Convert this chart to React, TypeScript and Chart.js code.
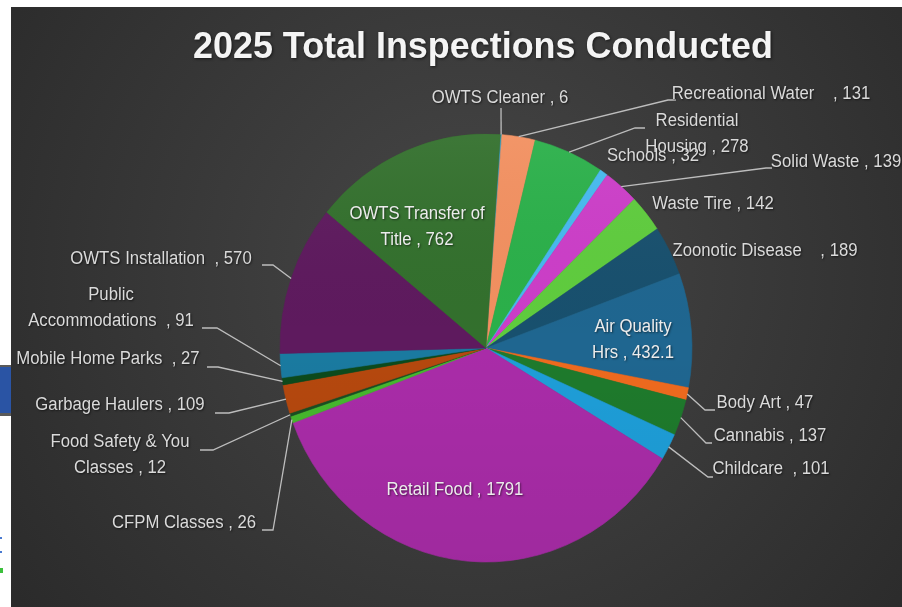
import React, { useEffect, useRef } from "react";
import { Chart, registerables } from "chart.js";

Chart.register(...registerables);

// ---------------- data ----------------
const TITLE = "2025 Total Inspections Conducted";

const categories = [
  "OWTS Cleaner",
  "Recreational Water",
  "Residential Housing",
  "Schools",
  "Solid Waste",
  "Waste Tire",
  "Zoonotic Disease",
  "Air Quality Hrs",
  "Body Art",
  "Cannabis",
  "Childcare",
  "Retail Food",
  "CFPM Classes",
  "Food Safety & You Classes",
  "Garbage Haulers",
  "Mobile Home Parks",
  "Public Accommodations",
  "OWTS Installation",
  "OWTS Transfer of Title",
];

const inspections = [6, 131, 278, 32, 139, 142, 189, 432.1, 47, 137, 101, 1791, 26, 12, 109, 27, 91, 570, 762];

const sliceColors = [
  "#2a9ac8", // OWTS Cleaner
  "#f29060", // Recreational Water
  "#2bb04a", // Residential Housing
  "#46b9ee", // Schools
  "#cc3ec8", // Solid Waste
  "#5fcc3e", // Waste Tire
  "#18506e", // Zoonotic Disease
  "#1f6690", // Air Quality Hrs
  "#ee6a1e", // Body Art
  "#1e7a2c", // Cannabis
  "#1e9ed8", // Childcare
  "#a92ca8", // Retail Food
  "#46b82e", // CFPM Classes
  "#1a4e22", // Food Safety & You Classes
  "#b5480e", // Garbage Haulers
  "#0c4a1c", // Mobile Home Parks
  "#1a7aa0", // Public Accommodations
  "#5e1a5e", // OWTS Installation
  "#33702d", // OWTS Transfer of Title
];

// ---------------- layout (page pixels) ----------------
const W = 902;
const H = 607;
const PANEL_X = 11;
const PANEL_Y = 7;
const CX = 486;
const CY = 348;
const RY = 214;
const RX = 206;
const SX = RX / RY;
const ROTATION = 4;

type LabelLayout = {
  x: number;
  y: number;
  brk?: number; // words of the name on the first line
  gap?: number; // spaces before the comma
  inside?: boolean;
  leader?: number[][];
};

const labelLayout: LabelLayout[] = [
  { x: 500, y: 97, leader: [[501, 108]] },
  { x: 771, y: 93, gap: 4, leader: [[676, 100], [668, 100]] },
  { x: 697, y: 120, brk: 1, leader: [[645, 128], [635, 128]] },
  { x: 653, y: 155 },
  { x: 836, y: 161, leader: [[772, 168], [766, 168]] },
  { x: 713, y: 203 },
  { x: 765, y: 250, gap: 4 },
  { x: 633, y: 326, brk: 2, inside: true },
  { x: 765, y: 402, leader: [[715, 410], [705, 410]] },
  { x: 770, y: 435, leader: [[712, 443], [706, 443]] },
  { x: 771, y: 468, gap: 2, leader: [[713, 477], [708, 477]] },
  { x: 455, y: 489, inside: true },
  { x: 184, y: 522, leader: [[262, 530], [273, 530]] },
  { x: 120, y: 441, brk: 4, leader: [[200, 450], [213, 450]] },
  { x: 120, y: 404, leader: [[215, 413], [229, 413]] },
  { x: 108, y: 358, gap: 2, leader: [[207, 367], [218, 367]] },
  { x: 111, y: 294, brk: 1, gap: 2, leader: [[202, 328], [217, 328]] },
  { x: 161, y: 258, gap: 2, leader: [[262, 265], [273, 265]] },
  { x: 417, y: 213, brk: 3, inside: true },
];

const LABEL_FONT = '18px "Liberation Sans", Arial, sans-serif';
const LABEL_SCALE = 0.93;
const LINE_H = 26;

function labelLines(i: number): string[] {
  const lay = labelLayout[i];
  const words = categories[i].split(" ");
  const tail = " ".repeat(lay.gap ?? 1) + ", " + String(inspections[i]);
  if (lay.brk && lay.brk < words.length) {
    return [words.slice(0, lay.brk).join(" "), words.slice(lay.brk).join(" ") + tail];
  }
  return [categories[i] + tail];
}

function drawScaled(ctx: CanvasRenderingContext2D, text: string, x: number, y: number, sx: number) {
  ctx.save();
  ctx.translate(x, y);
  ctx.scale(sx, 1);
  ctx.fillText(text, 0, 0);
  ctx.restore();
}

const piePlugin = {
  id: "slideDecor",
  beforeDraw(chart: any) {
    const ctx: CanvasRenderingContext2D = chart.ctx;
    ctx.save();
    ctx.fillStyle = "#ffffff";
    ctx.fillRect(0, 0, W, H);
    const g = ctx.createRadialGradient(470, 270, 0, 470, 270, 660);
    g.addColorStop(0, "#474747");
    g.addColorStop(1, "#262626");
    ctx.fillStyle = g;
    ctx.fillRect(PANEL_X, PANEL_Y, W - PANEL_X, H - PANEL_Y);
    // slide artefacts on the left edge
    ctx.fillStyle = "#5a5a5a";
    ctx.fillRect(0, 365, PANEL_X, 51);
    ctx.fillStyle = "#2a54a4";
    ctx.fillRect(0, 367, PANEL_X, 46);
    ctx.fillStyle = "#4a7ad0";
    ctx.fillRect(0, 537, 2, 2);
    ctx.fillRect(0, 551, 2, 2);
    ctx.fillStyle = "#3cc03c";
    ctx.fillRect(0, 568, 3, 5);
    ctx.restore();
  },
  beforeDatasetsDraw(chart: any) {
    const ctx: CanvasRenderingContext2D = chart.ctx;
    ctx.save();
    ctx.translate(CX, 0);
    ctx.scale(SX, 1);
    ctx.translate(-CX, 0);
  },
  afterDatasetsDraw(chart: any) {
    const ctx: CanvasRenderingContext2D = chart.ctx;
    const arc = chart.getDatasetMeta(0).data[0];
    if (arc) {
      const p = arc.getProps(["x", "y", "outerRadius"], true);
      // subtle top-light shading across the pie
      ctx.beginPath();
      ctx.arc(p.x, p.y, p.outerRadius, 0, Math.PI * 2);
      const sh = ctx.createLinearGradient(0, p.y - p.outerRadius, 0, p.y + p.outerRadius);
      sh.addColorStop(0, "rgba(255,255,255,0.05)");
      sh.addColorStop(0.5, "rgba(0,0,0,0)");
      sh.addColorStop(1, "rgba(0,0,0,0.06)");
      ctx.fillStyle = sh;
      ctx.fill();
    }
    ctx.restore();
  },
  afterDraw(chart: any) {
    const ctx: CanvasRenderingContext2D = chart.ctx;
    const meta = chart.getDatasetMeta(0);
    ctx.save();
    // title
    ctx.font = 'bold 37px "Liberation Sans", Arial, sans-serif';
    ctx.textAlign = "center";
    ctx.textBaseline = "alphabetic";
    ctx.fillStyle = "#f4f4f4";
    ctx.shadowColor = "rgba(0,0,0,0.6)";
    ctx.shadowBlur = 3;
    ctx.shadowOffsetX = 1;
    ctx.shadowOffsetY = 1;
    const tw = ctx.measureText(TITLE).width;
    drawScaled(ctx, TITLE, 483, 58, 580 / tw);

    // leader lines
    ctx.shadowColor = "transparent";
    ctx.strokeStyle = "#bdbdbd";
    ctx.lineWidth = 1.3;
    labelLayout.forEach((lay, i) => {
      if (!lay.leader) return;
      const arc = meta.data[i];
      const p = arc.getProps(["x", "y", "startAngle", "endAngle", "outerRadius"], true);
      const mid = (p.startAngle + p.endAngle) / 2;
      const ax = p.x + SX * p.outerRadius * Math.cos(mid);
      const ay = p.y + p.outerRadius * Math.sin(mid);
      ctx.beginPath();
      ctx.moveTo(lay.leader[0][0], lay.leader[0][1]);
      for (let k = 1; k < lay.leader.length; k++) ctx.lineTo(lay.leader[k][0], lay.leader[k][1]);
      ctx.lineTo(ax, ay);
      ctx.stroke();
    });

    // labels
    ctx.font = LABEL_FONT;
    ctx.shadowColor = "rgba(0,0,0,0.55)";
    ctx.shadowBlur = 2;
    ctx.shadowOffsetX = 1;
    ctx.shadowOffsetY = 1;
    labelLayout.forEach((lay, i) => {
      ctx.fillStyle = lay.inside ? "#ececec" : "#dadada";
      labelLines(i).forEach((line, k) => {
        drawScaled(ctx, line, lay.x, lay.y + 6 + k * LINE_H, LABEL_SCALE);
      });
    });
    ctx.restore();
  },
};

export default function App() {
  const ref = useRef<HTMLCanvasElement | null>(null);

  useEffect(() => {
    if (!ref.current) return;
    const chart = new Chart(ref.current, {
      type: "pie",
      data: {
        labels: categories,
        datasets: [
          {
            data: inspections,
            backgroundColor: sliceColors,
            borderColor: sliceColors,
            borderWidth: 0.6,
            radius: RY,
          } as any,
        ],
      },
      options: {
        responsive: false,
        animation: false,
        rotation: ROTATION,
        layout: {
          padding: { left: CX - RY, right: W - (CX + RY), top: CY - RY, bottom: H - (CY + RY) },
        },
        plugins: {
          legend: { display: false },
          tooltip: { enabled: false },
          title: { display: false },
        },
      },
      plugins: [piePlugin],
    });
    return () => chart.destroy();
  }, []);

  return (
    <div style={{ position: "fixed", left: 0, top: 0, width: W, height: H }}>
      <canvas ref={ref} width={W} height={H} style={{ display: "block" }} />
    </div>
  );
}
